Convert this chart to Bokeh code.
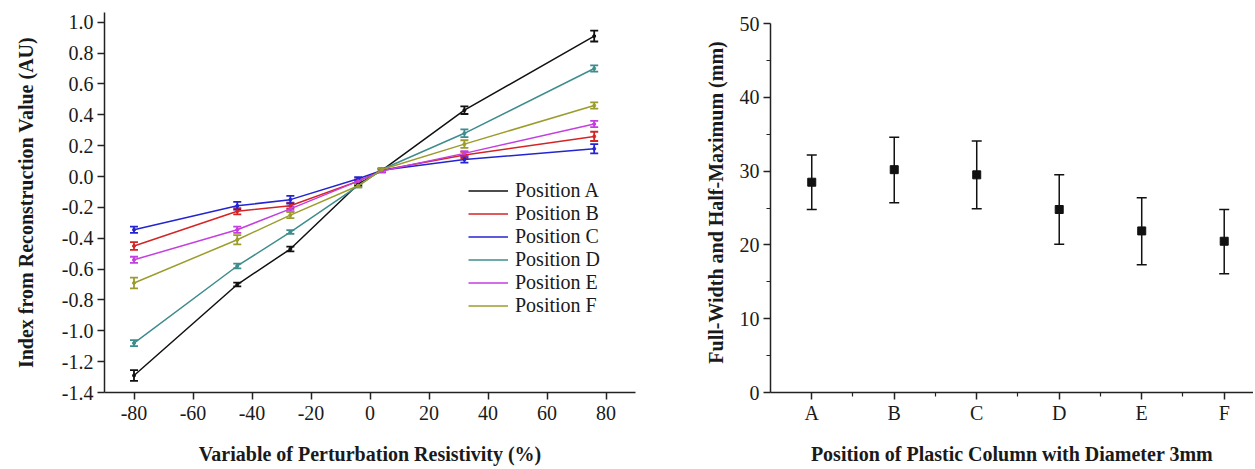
from bokeh.plotting import figure
from bokeh.models import (ColumnDataSource, Whisker, TeeHead, Legend, LegendItem,
                          FixedTicker, Range1d, NumeralTickFormatter)
from bokeh.layouts import row
from bokeh.embed import file_html
from bokeh.resources import INLINE

# ---------------- data: left chart ----------------
perturbation = [-80, -45, -27, -4, 4, 32, 76]
series_names = ["Position A", "Position B", "Position C", "Position D", "Position E", "Position F"]
pos_a = [-1.29, -0.70, -0.47, -0.05, 0.04, 0.43, 0.91]
err_a = [0.035, 0.012, 0.015, 0.01, 0.01, 0.025, 0.035]
pos_b = [-0.45, -0.225, -0.19, -0.03, 0.04, 0.14, 0.26]
err_b = [0.025, 0.02, 0.02, 0.01, 0.01, 0.02, 0.03]
pos_c = [-0.345, -0.19, -0.15, -0.015, 0.04, 0.11, 0.18]
err_c = [0.02, 0.025, 0.025, 0.01, 0.01, 0.02, 0.03]
pos_d = [-1.08, -0.58, -0.36, -0.06, 0.045, 0.28, 0.70]
err_d = [0.02, 0.015, 0.012, 0.01, 0.01, 0.025, 0.02]
pos_e = [-0.54, -0.345, -0.21, -0.03, 0.035, 0.15, 0.34]
err_e = [0.02, 0.02, 0.015, 0.01, 0.01, 0.015, 0.02]
pos_f = [-0.69, -0.41, -0.25, -0.06, 0.045, 0.21, 0.46]
err_f = [0.035, 0.03, 0.02, 0.01, 0.01, 0.025, 0.02]
left_x_ticks = [-80, -60, -40, -20, 0, 20, 40, 60, 80]
left_x_labels = ["-80", "-60", "-40", "-20", "0", "20", "40", "60", "80"]
left_y_ticks = [-1.4, -1.2, -1.0, -0.8, -0.6, -0.4, -0.2, 0.0, 0.2, 0.4, 0.6, 0.8, 1.0]

# ---------------- data: right chart ----------------
positions = ["A", "B", "C", "D", "E", "F"]
fwhm = [28.5, 30.2, 29.5, 24.8, 21.9, 20.5]
fwhm_lower = [24.8, 25.7, 24.9, 20.1, 17.3, 16.1]
fwhm_upper = [32.2, 34.6, 34.1, 29.5, 26.4, 24.8]
right_y_ticks = [0, 10, 20, 30, 40, 50]
right_y_minor = [5, 15, 25, 35, 45]

colors = ["#111111", "#d42424", "#2424d0", "#3f8c8c", "#c43ee0", "#9c9c2c"]
FONT = "Liberation Serif"
TXT = "#1a1a1a"


def style_axes(p):
    for ax in (p.xaxis[0], p.yaxis[0]):
        ax.axis_line_width = 1.5
        ax.axis_line_color = "#222222"
        ax.major_tick_line_width = 1.5
        ax.major_tick_line_color = "#222222"
        ax.minor_tick_line_width = 1.2
        ax.minor_tick_line_color = "#222222"
        ax.major_tick_in = 0
        ax.major_tick_out = 7
        ax.minor_tick_in = 0
        ax.minor_tick_out = 4
        ax.major_label_text_font = FONT
        ax.major_label_text_font_size = "20px"
        ax.major_label_text_color = TXT
        ax.axis_label_text_font = FONT
        ax.axis_label_text_font_size = "20px"
        ax.axis_label_text_font_style = "bold"
        ax.axis_label_text_color = TXT
    p.xgrid.visible = False
    p.ygrid.visible = False
    p.outline_line_color = None


# ---------------- left figure ----------------
p1 = figure(frame_width=531, frame_height=380, output_backend="svg", toolbar_location=None,
            x_range=Range1d(-90, 90), y_range=Range1d(-1.4, 1.063),
            min_border_left=104, min_border_right=33, min_border_top=12, min_border_bottom=76)
style_axes(p1)
p1.xaxis.ticker = FixedTicker(ticks=left_x_ticks)
p1.xaxis.major_label_overrides = {t: s for t, s in zip(left_x_ticks, left_x_labels)}
p1.yaxis.ticker = FixedTicker(ticks=left_y_ticks)
p1.yaxis.formatter = NumeralTickFormatter(format="0.0")
p1.xaxis.minor_tick_line_color = None
p1.yaxis.minor_tick_line_color = None
p1.xaxis.axis_label = "Variable of Perturbation Resistivity (%)"
p1.yaxis.axis_label = "Index from Reconstruction Value (AU)"
p1.xaxis.major_label_standoff = 6
p1.yaxis.major_label_standoff = 4
p1.xaxis.axis_label_standoff = 20
p1.yaxis.axis_label_standoff = 22

all_vals = [pos_a, pos_b, pos_c, pos_d, pos_e, pos_f]
all_errs = [err_a, err_b, err_c, err_d, err_e, err_f]
items = []
for name, vals, errs, col in zip(series_names, all_vals, all_errs, colors):
    src = ColumnDataSource(dict(x=perturbation, y=vals,
                                upper=[v + e for v, e in zip(vals, errs)],
                                lower=[v - e for v, e in zip(vals, errs)]))
    ln = p1.line("x", "y", source=src, line_color=col, line_width=1.5)
    p1.scatter("x", "y", source=src, size=3, color=col)
    wh = Whisker(source=src, base="x", upper="upper", lower="lower",
                 line_color=col, line_width=1.8,
                 upper_head=TeeHead(size=8, line_color=col, line_width=1.8),
                 lower_head=TeeHead(size=8, line_color=col, line_width=1.8))
    p1.add_layout(wh)
    items.append(LegendItem(label=name, renderers=[ln]))

legend = Legend(items=items, location=(364, 75), glyph_width=40, glyph_height=23,
                label_height=23, spacing=0, padding=0, margin=0, label_standoff=7,
                label_text_font=FONT, label_text_font_size="20px", label_text_color=TXT,
                border_line_color=None, background_fill_alpha=0)
p1.add_layout(legend, "center")

# ---------------- right figure ----------------
p2 = figure(frame_width=483, frame_height=380, output_backend="svg", toolbar_location=None,
            x_range=Range1d(0.5, 6.355), y_range=Range1d(0, 51.5),
            min_border_left=102, min_border_right=0, min_border_top=12, min_border_bottom=76)
style_axes(p2)
xpos = list(range(1, len(positions) + 1))
p2.xaxis.ticker = FixedTicker(ticks=xpos, minor_ticks=[x + 0.5 for x in xpos])
p2.xaxis.major_label_overrides = {x: lab for x, lab in zip(xpos, positions)}
p2.yaxis.ticker = FixedTicker(ticks=right_y_ticks, minor_ticks=right_y_minor)
p2.yaxis.bounds = (0, 50)
p2.xaxis.axis_label = "Position of Plastic Column with Diameter 3mm"
p2.yaxis.axis_label = "Full-Width and Half-Maximum (mm)"
p2.xaxis.major_label_standoff = 2
p2.yaxis.major_label_standoff = 4
p2.xaxis.axis_label_standoff = 16
p2.yaxis.axis_label_standoff = 10

src2 = ColumnDataSource(dict(x=xpos, y=fwhm, upper=fwhm_upper, lower=fwhm_lower))
p2.add_layout(Whisker(source=src2, base="x", upper="upper", lower="lower",
                      line_color="#111111", line_width=1.5,
                      upper_head=TeeHead(size=10, line_color="#111111", line_width=1.5),
                      lower_head=TeeHead(size=10, line_color="#111111", line_width=1.5)))
p2.scatter("x", "y", source=src2, marker="square", size=8, color="#111111")

layout = row(p1, p2)
open("out.html", "w").write(file_html(layout, INLINE))
